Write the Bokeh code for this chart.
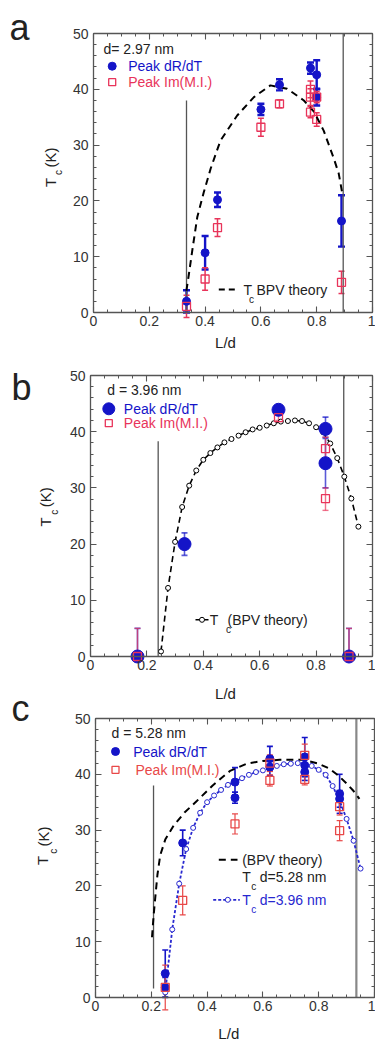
from math import pi
from bokeh.plotting import figure
from bokeh.models import (ColumnDataSource, Whisker, TeeHead, Label, Range1d,
                          LinearAxis, FixedTicker, NumeralTickFormatter)
from bokeh.layouts import column
from bokeh.embed import file_html
from bokeh.resources import INLINE

FONT = "Liberation Sans"
BLUE = "#1414c8"
RED = "#e8345a"
RED_C = "#e84848"
BLUE_T = "#2828d0"
DARK = "#222222"
GRAY = "#555555"

# ---------------- data ----------------
X_MAJOR = [0, 0.2, 0.4, 0.6, 0.8, 1.0]
X_MINOR = [round(0.05 * i, 2) for i in range(21)]
Y_MAJOR = [0, 10, 20, 30, 40, 50]
Y_MINOR = list(range(0, 51, 2))

# panel a  (d = 2.97 nm)
a_blue_x = [1/3, 0.40, 4/9, 0.60, 2/3, 7/9, 0.80, 0.80, 8/9]
a_blue_y = [2.0, 10.7, 20.2, 36.4, 40.8, 43.8, 42.6, 38.6, 16.4]
a_blue_e = [2.0, 3.0, 1.3, 1.0, 1.0, 1.0, 2.6, 1.5, 4.6]
a_red_x = [1/3, 0.40, 4/9, 0.60, 2/3, 7/9, 7/9, 7/9, 0.80, 0.80, 8/9]
a_red_y = [1.1, 6.0, 15.2, 33.2, 37.4, 40.0, 38.6, 35.9, 38.6, 34.6, 5.4]
a_red_e = [2.0, 2.0, 1.6, 1.6, 0.7, 1.5, 1.5, 1.0, 1.0, 1.2, 2.0]
a_theory_x = [0.333, 0.342, 0.354, 0.372, 0.395, 0.42, 0.455, 0.515, 0.575,
              0.634, 0.694, 0.754, 0.79, 0.825, 0.862, 0.879, 0.893]
a_theory_y = [3.9, 6.9, 11.1, 17.1, 21.5, 25.8, 30.8, 35.3, 38.6,
              40.7, 40.1, 38.0, 36.0, 32.6, 27.5, 24.9, 21.0]
a_bounds_x = [1/3, 0.895]
a_bounds_top = [38.0, 50.0]

# panel b  (d = 3.96 nm)
b_blue_x = [1/6, 1/3, 2/3, 5/6, 5/6, 11/12]
b_blue_y = [0.0, 20.0, 43.9, 40.5, 34.4, 0.0]
b_blue_lo = [0.0, 18.0, 43.9, 38.8, 30.0, 0.0]
b_blue_hi = [5.0, 22.0, 43.9, 42.6, 39.0, 5.0]
b_red_x = [1/6, 2/3, 5/6, 5/6, 11/12]
b_red_y = [0.0, 42.5, 37.0, 28.1, 0.0]
b_red_lo = [0.0, 42.0, 35.0, 26.0, 0.0]
b_red_hi = [5.0, 43.0, 39.0, 30.0, 5.0]
b_theory_x = [0.25, 0.275, 0.30, 0.325, 0.35, 0.375, 0.40, 0.425, 0.45, 0.475,
              0.50, 0.525, 0.55, 0.575, 0.60, 0.625, 0.65, 0.675, 0.70, 0.725,
              0.75, 0.775, 0.80, 0.825, 0.85, 0.875, 0.90, 0.925, 0.95]
b_theory_y = [0.9, 12.2, 20.4, 26.6, 30.4, 33.1, 35.0, 36.2, 37.2, 38.1,
              38.7, 39.3, 39.9, 40.4, 40.7, 41.1, 41.5, 41.8, 41.9, 42.0,
              41.9, 41.5, 40.8, 39.9, 37.9, 35.3, 32.0, 28.1, 23.1]
b_bounds_x = [0.24, 0.898]
b_bounds_top = [38.3, 50.0]

# panel c  (d = 5.28 nm)
c_blue_x = [0.25, 0.25, 0.3125, 0.5, 0.5, 0.625, 0.625, 0.75, 0.75, 0.75, 0.875, 0.875]
c_blue_y = [4.3, 1.8, 27.7, 38.6, 35.8, 42.8, 41.3, 43.1, 41.6, 40.4, 36.5, 35.6]
c_blue_e = [4.2, 1.8, 2.3, 2.6, 1.0, 2.2, 1.5, 3.5, 2.0, 1.5, 3.5, 1.5]
c_red_x = [0.25, 0.3125, 0.5, 0.625, 0.625, 0.75, 0.75, 0.875, 0.875]
c_red_y = [1.8, 17.4, 31.1, 38.9, 42.0, 43.4, 39.1, 34.2, 29.9]
c_red_e = [4.0, 2.6, 1.8, 1.0, 1.5, 2.0, 1.0, 1.5, 1.8]
c_theory_x = [0.2025, 0.208, 0.214, 0.222, 0.232, 0.25, 0.28, 0.32, 0.363, 0.42,
              0.482, 0.542, 0.60, 0.66, 0.744, 0.80, 0.839, 0.87, 0.899, 0.925, 0.946]
c_theory_y = [10.8, 14.5, 17.8, 22.0, 25.5, 28.3, 30.8, 33.2, 35.2, 38.0,
              40.6, 41.9, 42.4, 42.6, 42.6, 41.9, 41.0, 39.8, 38.4, 37.0, 35.6]
c_bounds_x = [0.208, 0.935]
c_bounds_bottom = [1.6, 0.0]
c_bounds_top = [38.0, 50.0]

# ---------------- layout geometry (page pixels) ----------------
GEO_A = dict(top=0, h=352, l=93, r=372, t=33, b=312)
GEO_B = dict(top=352, h=324, l=90, r=372, t=375, b=656)
GEO_C = dict(top=676, h=366, l=95, r=374, t=718, b=997)


def to_data(g, X, Y):
    return (X - g["l"]) / (g["r"] - g["l"]), 50.0 * (g["b"] - Y) / (g["b"] - g["t"])


def make_fig(g):
    sx = g["r"] - g["l"]
    sy = (g["b"] - g["t"]) / 50.0
    x0 = -g["l"] / sx
    x1 = (375 - g["l"]) / sx
    y1 = 50 + (g["t"] - g["top"]) / sy
    y0 = -(g["top"] + g["h"] - g["b"]) / sy
    p = figure(width=375, height=g["h"], x_range=Range1d(x0, x1), y_range=Range1d(y0, y1),
               output_backend="svg", toolbar_location=None, title=None,
               x_axis_location=None, y_axis_location=None, min_border=0)
    p.min_border_left = p.min_border_right = p.min_border_top = p.min_border_bottom = 0
    p.xgrid.visible = False
    p.ygrid.visible = False
    p.outline_line_color = None
    p.background_fill_color = "white"
    p.border_fill_color = "white"

    def common(ax, line=True):
        ax.axis_line_color = GRAY if line else None
        ax.axis_line_width = 1.3
        ax.major_tick_in = 6
        ax.major_tick_out = 0
        ax.minor_tick_in = 3
        ax.minor_tick_out = 0
        ax.major_tick_line_color = GRAY
        ax.minor_tick_line_color = GRAY
        ax.major_tick_line_width = 1.1
        ax.minor_tick_line_width = 1.0
        ax.major_label_text_font = FONT
        ax.major_label_text_font_size = "14px"
        ax.major_label_text_color = "#333333"

    bottom = LinearAxis(fixed_location=0, bounds=(0, 1),
                        ticker=FixedTicker(ticks=X_MAJOR, minor_ticks=X_MINOR),
                        formatter=NumeralTickFormatter(format="0.[0]"))
    common(bottom)
    bottom.major_label_standoff = 3
    p.add_layout(bottom, "below")
    left = LinearAxis(fixed_location=0, bounds=(0, 50),
                      ticker=FixedTicker(ticks=Y_MAJOR, minor_ticks=Y_MINOR))
    common(left)
    left.major_label_standoff = 5
    p.add_layout(left, "left")
    for loc, side, bnds, minor in [(50, "above", (0, 1), X_MINOR), (1, "right", (0, 50), Y_MINOR)]:
        a1 = LinearAxis(fixed_location=loc, bounds=bnds, ticker=FixedTicker(ticks=[], minor_ticks=minor))
        common(a1)
        p.add_layout(a1, side)
    for loc, side, bnds, major in [(50, "above", (0, 1), X_MAJOR), (1, "right", (0, 50), Y_MAJOR)]:
        a2 = LinearAxis(fixed_location=loc, bounds=bnds, ticker=FixedTicker(ticks=[], minor_ticks=major))
        common(a2, line=False)
        a2.minor_tick_in = 6
        a2.minor_tick_line_width = 1.1
        p.add_layout(a2, side)
    return p


def lab(p, g, X, Y, text, size=14, color=DARK, align="left", baseline="middle", angle=0.0):
    x, y = to_data(g, X, Y)
    p.add_layout(Label(x=x, y=y, text=text, text_font=FONT, text_font_size=f"{size}px",
                       text_color=color, text_align=align, text_baseline=baseline,
                       angle=angle))


def mark(p, g, X, Y, **kw):
    x, y = to_data(g, X, Y)
    p.scatter([x], [y], **kw)


def whiskers(p, x, lo, hi, color, width, size, alpha=1.0):
    src = ColumnDataSource(dict(x=x, lo=lo, hi=hi))
    w = Whisker(source=src, base="x", lower="lo", upper="hi", line_color=color,
                line_width=width, line_alpha=alpha,
                upper_head=TeeHead(size=size, line_color=color, line_width=width, line_alpha=alpha),
                lower_head=TeeHead(size=size, line_color=color, line_width=width, line_alpha=alpha))
    p.add_layout(w)


def ylabel(p, g, xT, yT, xc, yc, xK, yK):
    lab(p, g, xT, yT, "T", size=15, align="center", angle=pi / 2)
    lab(p, g, xc, yc, "c", size=10, align="center", angle=pi / 2)
    lab(p, g, xK, yK, "(K)", size=15, align="center", angle=pi / 2)


# ---------------- panel a ----------------
g = GEO_A
pa = make_fig(g)
pa.segment(x0=a_bounds_x, y0=[0, 0], x1=a_bounds_x, y1=a_bounds_top, line_color=GRAY, line_width=1.3)
pa.line(a_theory_x, a_theory_y, line_color="black", line_width=2, line_dash="7 5")
whiskers(pa, a_blue_x, [y - e for y, e in zip(a_blue_y, a_blue_e)],
         [y + e for y, e in zip(a_blue_y, a_blue_e)], BLUE, 2.4, 7)
whiskers(pa, a_red_x, [y - e for y, e in zip(a_red_y, a_red_e)],
         [y + e for y, e in zip(a_red_y, a_red_e)], RED, 1.5, 6)
pa.scatter(a_blue_x, a_blue_y, marker="circle", size=8, fill_color=BLUE, line_color=BLUE)
pa.scatter(a_red_x, a_red_y, marker="square", size=8, fill_alpha=0, line_color=RED, line_width=1.3)
lab(pa, g, 103, 48.3, "d= 2.97 nm")
mark(pa, g, 111.7, 65.7, marker="circle", size=8, fill_color=BLUE, line_color=BLUE)
lab(pa, g, 127.7, 65.7, "Peak dR/dT", color=BLUE)
mark(pa, g, 111.7, 81.7, marker="square", size=7, fill_alpha=0, line_color=RED, line_width=1.3)
lab(pa, g, 127.7, 81.7, "Peak Im(M.I.)", color=RED)
xa, ya = to_data(g, 218.3, 289)
xb, _ = to_data(g, 238.3, 289)
pa.line([xa, xb], [ya, ya], line_color="black", line_width=2, line_dash="6 4")
lab(pa, g, 247.3, 289, "T", align="center")
lab(pa, g, 251, 299, "c", size=10, align="center")
lab(pa, g, 256, 289, "BPV theory")
lab(pa, g, 225, 341.7, "L/d", size=15, align="center")
ylabel(pa, g, 50, 182, 58, 172, 50, 157)
lab(pa, g, 9, 27, "a", size=36, baseline="alphabetic")

# ---------------- panel b ----------------
g = GEO_B
pb = make_fig(g)
pb.segment(x0=b_bounds_x, y0=[0, 0], x1=b_bounds_x, y1=b_bounds_top, line_color=GRAY, line_width=1.3)
pb.line(b_theory_x, b_theory_y, line_color="black", line_width=1.6, line_dash="6 4")
pb.scatter(b_theory_x, b_theory_y, marker="circle", size=5, fill_color="white", line_color="black", line_width=1)
whiskers(pb, b_blue_x, b_blue_lo, b_blue_hi, BLUE, 1.6, 6, alpha=0.7)
whiskers(pb, b_red_x, b_red_lo, b_red_hi, RED, 1.4, 6, alpha=0.7)
pb.scatter(b_blue_x, b_blue_y, marker="circle", size=13, fill_color=BLUE, line_color=BLUE)
pb.scatter(b_red_x, b_red_y, marker="square", size=8, fill_alpha=0, line_color=RED, line_width=1.3)
lab(pb, g, 106.7, 389.3, "d = 3.96 nm")
mark(pb, g, 108.3, 408.3, marker="circle", size=12, fill_color=BLUE, line_color=BLUE)
lab(pb, g, 123.3, 408.3, "Peak dR/dT", color=BLUE)
mark(pb, g, 108.3, 422.7, marker="square", size=7, fill_alpha=0, line_color=RED, line_width=1.3)
lab(pb, g, 123.3, 422.7, "Peak Im(M.I.)", color=RED)
xa, ya = to_data(g, 195, 619.3)
xb, _ = to_data(g, 208, 619.3)
pb.line([xa, xb], [ya, ya], line_color="black", line_width=1.6)
mark(pb, g, 201.5, 619.3, marker="circle", size=5, fill_color="white", line_color="black")
lab(pb, g, 213.5, 619.3, "T", align="center")
lab(pb, g, 228, 629, "c", size=10, align="center")
lab(pb, g, 227, 619.3, "(BPV theory)")
ylabel(pb, g, 45, 521.5, 53.5, 511.7, 45, 496.7)
lab(pb, g, 11, 386.7, "b", size=36, baseline="alphabetic")

# ---------------- panel c ----------------
g = GEO_C
pc = make_fig(g)
pc.segment(x0=c_bounds_x, y0=c_bounds_bottom, x1=c_bounds_x, y1=c_bounds_top,
           line_color=[GRAY, "#888888"], line_width=[1.3, 2.2])
pc.line(c_theory_x, c_theory_y, line_color="black", line_width=2, line_dash="7 5")
pc.line(b_theory_x, b_theory_y, line_color=BLUE_T, line_width=1.8, line_dash="3 2")
pc.scatter(b_theory_x, b_theory_y, marker="circle", size=5, fill_color="white", line_color=BLUE_T, line_width=1)
whiskers(pc, c_blue_x, [y - e for y, e in zip(c_blue_y, c_blue_e)],
         [y + e for y, e in zip(c_blue_y, c_blue_e)], BLUE, 1.6, 6)
whiskers(pc, c_red_x, [y - e for y, e in zip(c_red_y, c_red_e)],
         [y + e for y, e in zip(c_red_y, c_red_e)], RED_C, 1.2, 6)
pc.scatter(c_blue_x, c_blue_y, marker="circle", size=8, fill_color=BLUE, line_color=BLUE)
pc.scatter(c_red_x, c_red_y, marker="square", size=8, fill_alpha=0, line_color=RED_C, line_width=1.3)
lab(pc, g, 111, 732.7, "d = 5.28 nm")
mark(pc, g, 115, 751, marker="circle", size=8, fill_color=BLUE, line_color=BLUE)
lab(pc, g, 132.7, 751, "Peak dR/dT", color=BLUE)
mark(pc, g, 115, 769.3, marker="square", size=7, fill_alpha=0, line_color=RED_C, line_width=1.3)
lab(pc, g, 135, 769.3, "Peak Im(M.I.)", color=RED_C)
xa, ya = to_data(g, 218.3, 859.3)
xb, _ = to_data(g, 237, 859.3)
pc.line([xa, xb], [ya, ya], line_color="black", line_width=2, line_dash="7 5")
lab(pc, g, 241.7, 859.3, "(BPV theory)")
lab(pc, g, 246, 876, "T", align="center")
lab(pc, g, 253.3, 886, "c", size=10, align="center")
lab(pc, g, 259.3, 876, "d=5.28 nm")
xa, ya = to_data(g, 212.7, 899.3)
xb, _ = to_data(g, 239.3, 899.3)
pc.line([xa, xb], [ya, ya], line_color=BLUE_T, line_width=1.8, line_dash="3 2")
mark(pc, g, 227.3, 899.3, marker="circle", size=5, fill_color="white", line_color=BLUE_T)
lab(pc, g, 246, 899.3, "T", color=BLUE_T, align="center")
lab(pc, g, 253.3, 909, "c", size=10, color=BLUE_T, align="center")
lab(pc, g, 259.3, 899.3, "d=3.96 nm", color=BLUE_T)
lab(pc, g, 228.3, 1032.7, "L/d", size=15, align="center")
ylabel(pc, g, 42, 860, 53, 850.7, 43, 836)
lab(pc, g, 11, 708, "c", size=36, baseline="alphabetic")
# x-axis title of panel b sits in the strip shared with panel c's letter
lab(pc, g, 225, 693.3, "L/d", size=15, align="center")

layout = column(pa, pb, pc, spacing=0)
open("out.html", "w").write(file_html(layout, INLINE))
